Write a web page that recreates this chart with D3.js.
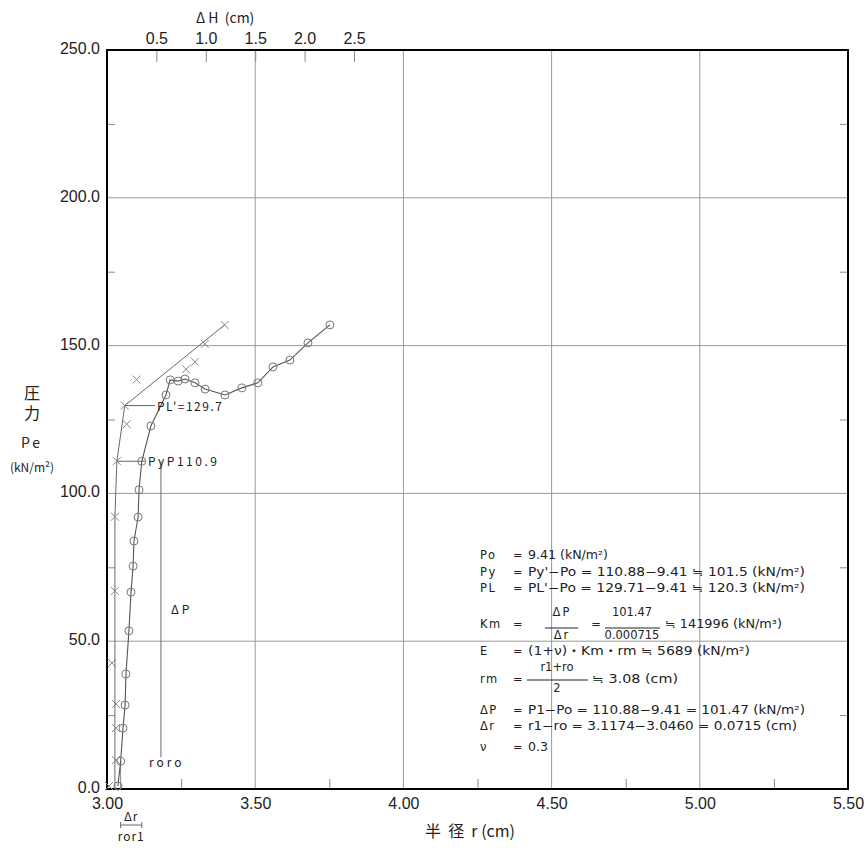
<!DOCTYPE html>
<html>
<head>
<meta charset="utf-8">
<script src="https://cdn.jsdelivr.net/npm/d3@7"></script>
<style>
  body { margin: 0; background: #fff; }
  text { font-family: "Noto Sans CJK JP", "Noto Sans", sans-serif; fill: #222; }
  .res text { font-family: "DejaVu Sans", "Noto Sans CJK JP", sans-serif; }
  .tk text { font-family: "Liberation Sans Narrow", "Liberation Sans", sans-serif; }
</style>
</head>
<body>
<svg id="chart" width="866" height="868"></svg>
<script>
// Axis ticks
const pTicks = [0, 50, 100, 150, 200, 250];
const pMinor = [25, 75, 125, 175, 225];
const rTicks = [3.0, 3.5, 4.0, 4.5, 5.0, 5.5];
const rMinor = [3.25, 3.75, 4.25, 4.75, 5.25];
const hTicks = [0.5, 1.0, 1.5, 2.0, 2.5];

// Pressure – radius curve (circles)
const radius    = [3.037, 3.046, 3.054, 3.061, 3.064, 3.074, 3.081, 3.088, 3.091, 3.105, 3.108, 3.1174, 3.148, 3.199, 3.213, 3.240, 3.263, 3.297, 3.331, 3.398, 3.455, 3.509, 3.560, 3.617, 3.678, 3.752];
const pressureR = [1.0, 9.41, 20.6, 28.4, 38.9, 53.5, 66.6, 75.4, 83.9, 92.0, 101.2, 110.88, 122.8, 133.3, 138.4, 138.0, 138.7, 137.4, 135.3, 133.3, 135.7, 137.4, 142.8, 145.1, 150.9, 157.0];

// Creep curve ΔH – pressure (crosses)
const creepH = [0.02, 0.09, 0.09, 0.09, 0.05, 0.08, 0.08, 0.10, 0.20, 0.18, 0.30, 0.80, 0.89, 0.99, 1.19];
const creepP = [1.0, 9.8, 20.6, 28.8, 42.6, 67.0, 92.1, 110.9, 123.4, 129.7, 138.5, 142.0, 144.5, 150.6, 157.0];
// Creep polyline with the tangent above PL'
const creepLineH = [0.08, 0.08, 0.10, 0.18, 1.19];
const creepLineP = [0.0, 92.0, 110.9, 129.7, 157.0];

// Characteristic values
const Po = 9.41, PyDash = 110.88, PLDash = 129.71;
const r0 = 3.0460, r1 = 3.1174;
const dPLineR = 3.182;

const svg = d3.select("#chart");
const mLeft = 107, mRight = 848, mTop = 50, mBottom = 789;

const x  = d3.scaleLinear().domain([3.0, 5.5]).range([mLeft, mRight]);
const xH = d3.scaleLinear().domain([0, 7.5]).range([mLeft, mRight]);
const y  = d3.scaleLinear().domain([0, 250]).range([mBottom, mTop]);

// Grid
const grid = svg.append("g").attr("stroke", "#9a9a9a").attr("stroke-width", 1);
grid.selectAll("line.v").data(rTicks.slice(1, -1)).join("line")
  .attr("x1", d => x(d)).attr("x2", d => x(d)).attr("y1", mTop).attr("y2", mBottom);
grid.selectAll("line.h").data(pTicks.slice(1, -1)).join("line")
  .attr("x1", mLeft).attr("x2", mRight).attr("y1", d => y(d)).attr("y2", d => y(d));

// Minor ticks (inward)
function styleMinor(g) {
  g.select(".domain").remove();
  g.selectAll(".tick line").attr("stroke", "#8a8a8a");
}
svg.append("g").attr("transform", `translate(0,${mBottom})`)
  .call(d3.axisBottom(x).tickValues(rMinor).tickSizeInner(-10).tickSizeOuter(0).tickFormat(""))
  .call(styleMinor);
svg.append("g").attr("transform", `translate(${mLeft},0)`)
  .call(d3.axisLeft(y).tickValues(pMinor).tickSizeInner(-8).tickSizeOuter(0).tickFormat(""))
  .call(styleMinor);
svg.append("g").attr("transform", `translate(${mRight},0)`)
  .call(d3.axisRight(y).tickValues(pMinor).tickSizeInner(-8).tickSizeOuter(0).tickFormat(""))
  .call(styleMinor);

function styleLabels(g) {
  g.select(".domain").remove();
  g.selectAll(".tick text").attr("font-size", 16).attr("fill", "#222");
}
svg.append("g").attr("class", "tk").attr("transform", `translate(0,${mTop})`)
  .call(d3.axisTop(xH).tickValues(hTicks).tickSizeInner(-12).tickSizeOuter(0)
    .tickPadding(6).tickFormat(d3.format(".1f")))
  .call(styleLabels)
  .call(g => g.selectAll(".tick line").attr("stroke", "#8a8a8a"));

// Main tick labels
svg.append("g").attr("class", "tk").attr("transform", `translate(0,${mBottom})`)
  .call(d3.axisBottom(x).tickValues(rTicks).tickSize(0).tickPadding(9).tickFormat(d3.format(".2f")))
  .call(styleLabels);
svg.append("g").attr("class", "tk").attr("transform", `translate(${mLeft},0)`)
  .call(d3.axisLeft(y).tickValues(pTicks).tickSize(0).tickPadding(7).tickFormat(d3.format(".1f")))
  .call(styleLabels)
  .call(g => g.selectAll(".tick text").attr("dy", "0.22em"));

// Frame
svg.append("rect").attr("x", mLeft).attr("y", mTop)
  .attr("width", mRight - mLeft).attr("height", mBottom - mTop)
  .attr("fill", "none").attr("stroke", "#000").attr("stroke-width", 2);

// Axis titles
svg.append("text").attr("x", 196).attr("y", 23).attr("font-size", 14)
  .attr("xml:space", "preserve").text("Δ H  (cm)");
svg.append("text").attr("x", 32).attr("y", 385).attr("font-size", 16)
  .style("writing-mode", "vertical-rl").attr("letter-spacing", 4).text("圧力");
svg.append("text").attr("x", 32).attr("y", 448).attr("text-anchor", "middle")
  .attr("font-size", 14).attr("letter-spacing", 3).text("Pe");
svg.append("text").attr("x", 32).attr("y", 472).attr("text-anchor", "middle")
  .attr("font-size", 12).text("(kN/m²)");
svg.append("text").attr("x", 470).attr("y", 837).attr("text-anchor", "middle")
  .attr("font-size", 16).attr("xml:space", "preserve").text("半  径  r (cm)");

// Δr bracket below the axis
const br = svg.append("g").attr("stroke", "#666").attr("stroke-width", 1);
br.append("line").attr("x1", x(r0)).attr("x2", x(r1)).attr("y1", 825).attr("y2", 825);
br.append("line").attr("x1", x(r0)).attr("x2", x(r0)).attr("y1", 822).attr("y2", 828);
br.append("line").attr("x1", x(r1)).attr("x2", x(r1)).attr("y1", 822).attr("y2", 828);
svg.append("text").attr("x", (x(r0) + x(r1)) / 2).attr("y", 821).attr("text-anchor", "middle")
  .attr("font-size", 12).attr("letter-spacing", 1).text("Δr");
svg.append("text").attr("x", (x(r0) + x(r1)) / 2).attr("y", 841).attr("text-anchor", "middle")
  .attr("font-size", 12).attr("letter-spacing", 1).text("ror1");

// Curves
const plot = svg.append("g");
const lineR = d3.line().x(d => x(d[0])).y(d => y(d[1]));
const lineH = d3.line().x(d => xH(d[0])).y(d => y(d[1]));

// r0 reference line
plot.append("line").attr("x1", x(r0)).attr("x2", x(r0)).attr("y1", y(0)).attr("y2", y(Po))
  .attr("stroke", "#888");

plot.append("path").datum(creepLineH.map((h, i) => [h, creepLineP[i]]))
  .attr("d", lineH).attr("fill", "none").attr("stroke", "#6a6a6a").attr("stroke-width", 1);

plot.append("path").datum(radius.map((r, i) => [r, pressureR[i]]))
  .attr("d", lineR).attr("fill", "none").attr("stroke", "#555").attr("stroke-width", 1.1);

plot.selectAll("circle.m").data(radius.map((r, i) => [r, pressureR[i]])).join("circle")
  .attr("cx", d => x(d[0])).attr("cy", d => y(d[1])).attr("r", 4)
  .attr("fill", "none").attr("stroke", "#777").attr("stroke-width", 1);

const cs = 4;
plot.selectAll("path.x").data(creepH.map((h, i) => [h, creepP[i]])).join("path")
  .attr("d", d => {
    const cx = xH(d[0]), cy = y(d[1]);
    return `M${cx - cs},${cy - cs}L${cx + cs},${cy + cs}M${cx - cs},${cy + cs}L${cx + cs},${cy - cs}`;
  })
  .attr("stroke", "#888").attr("stroke-width", 1).attr("fill", "none");

// ΔP vertical line between Po and Py'
plot.append("line").attr("x1", x(dPLineR)).attr("x2", x(dPLineR))
  .attr("y1", y(PyDash)).attr("y2", y(Po) - 4).attr("stroke", "#666");
svg.append("text").attr("x", x(dPLineR) + 10).attr("y", 614).attr("font-size", 12)
  .attr("letter-spacing", 3).text("ΔP");
svg.append("text").attr("x", x(dPLineR) - 12).attr("y", 767).attr("font-size", 12)
  .attr("letter-spacing", 3).text("roro");

// Leader labels
plot.append("line").attr("x1", xH(0.18)).attr("x2", 155).attr("y1", y(PLDash)).attr("y2", y(PLDash))
  .attr("stroke", "#666");
svg.append("text").attr("x", 157).attr("y", y(PLDash) + 5).attr("font-size", 12)
  .attr("letter-spacing", 1.5).text("PL'=129.7");
plot.append("line").attr("x1", xH(0.10)).attr("x2", 145).attr("y1", y(PyDash)).attr("y2", y(PyDash))
  .attr("stroke", "#666");
svg.append("text").attr("x", 148).attr("y", y(PyDash) + 5).attr("font-size", 12)
  .attr("letter-spacing", 2.5).text("PyP110.9");

// Result block
const tb = svg.append("g").attr("class", "res").attr("font-size", 11.5);
function row(yc, label, rest, restLen) {
  tb.append("text").attr("x", 480).attr("y", yc + 4).attr("letter-spacing", 1.5).text(label);
  tb.append("text").attr("x", 513).attr("y", yc + 4).text("=");
  if (rest) {
    const t = tb.append("text").attr("x", 528).attr("y", yc + 4).text(rest);
    if (restLen) t.attr("textLength", restLen).attr("lengthAdjust", "spacingAndGlyphs");
  }
}
row(555, "Po", "9.41 (kN/m²)", 80);
row(572, "Py", "Py'−Po = 110.88−9.41 ≒ 101.5 (kN/m²)", 277);
row(588, "PL", "PL'−Po = 129.71−9.41 ≒ 120.3 (kN/m²)", 277);
row(624, "Km", null);
// Km fractions
tb.append("text").attr("x", 562).attr("y", 616).attr("text-anchor", "middle").attr("letter-spacing", 2).text("ΔP");
tb.append("line").attr("x1", 545).attr("x2", 578).attr("y1", 628).attr("y2", 628).attr("stroke", "#222");
tb.append("text").attr("x", 562).attr("y", 639).attr("text-anchor", "middle").attr("letter-spacing", 2).text("Δr");
tb.append("text").attr("x", 596).attr("y", 628).attr("text-anchor", "middle").text("=");
tb.append("text").attr("x", 632).attr("y", 616).attr("text-anchor", "middle").text("101.47");
tb.append("line").attr("x1", 605).attr("x2", 660).attr("y1", 628).attr("y2", 628).attr("stroke", "#222");
tb.append("text").attr("x", 632).attr("y", 639).attr("text-anchor", "middle").text("0.000715");
tb.append("text").attr("x", 665).attr("y", 628).attr("textLength", 117).attr("lengthAdjust", "spacingAndGlyphs")
  .text("≒ 141996 (kN/m³)");
row(651, "E", "(1+ν)・Km・rm ≒ 5689 (kN/m²)", 222);
row(679, "rm", null);
tb.append("text").attr("x", 557).attr("y", 671).attr("text-anchor", "middle").text("r1+ro");
tb.append("line").attr("x1", 527).attr("x2", 588).attr("y1", 680).attr("y2", 680).attr("stroke", "#222");
tb.append("text").attr("x", 557).attr("y", 692).attr("text-anchor", "middle").text("2");
tb.append("text").attr("x", 592).attr("y", 683).attr("textLength", 86).attr("lengthAdjust", "spacingAndGlyphs")
  .text("≒ 3.08 (cm)");
row(710, "ΔP", "P1−Po = 110.88−9.41 = 101.47 (kN/m²)", 277);
row(726, "Δr", "r1−ro = 3.1174−3.0460 = 0.0715 (cm)", 269);
row(747, "ν", "0.3", 20);
</script>
</body>
</html>
